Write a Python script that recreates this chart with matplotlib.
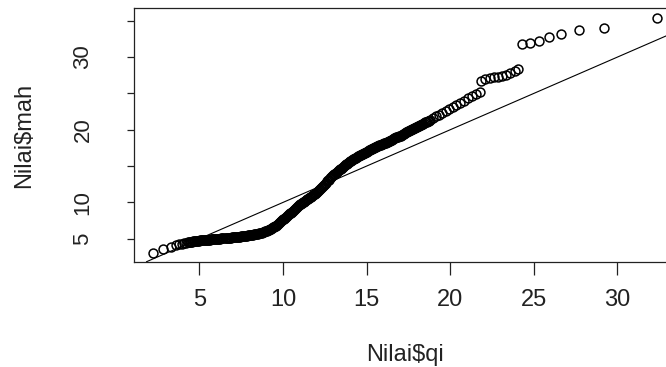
import matplotlib
matplotlib.use("Agg")
import matplotlib.pyplot as plt

plt.rcParams['font.family'] = ['Liberation Sans', 'DejaVu Sans']

# Chi-square quantiles (x) and sorted Mahalanobis distances (y)
qi = [
    2.22, 2.82, 3.30, 3.60, 3.80, 3.96, 4.10, 4.22, 4.32,
    4.40, 4.46, 4.52, 4.58, 4.64, 4.70, 4.76, 4.82, 4.88, 4.94, 5.00, 5.06,
    5.12, 5.18, 5.24, 5.30, 5.36, 5.42, 5.48, 5.54, 5.60, 5.66, 5.72, 5.78, 5.84, 5.90, 5.96, 6.02,
    6.08, 6.14, 6.20, 6.26, 6.32, 6.38, 6.44, 6.50, 6.56, 6.62, 6.68, 6.74, 6.80, 6.86, 6.92, 6.98,
    7.04, 7.10, 7.16, 7.22, 7.28, 7.34, 7.40,
    7.46, 7.52, 7.58, 7.64, 7.70, 7.76, 7.82, 7.88, 7.94, 8.00, 8.06, 8.12, 8.18, 8.24, 8.30, 8.36,
    8.42, 8.48, 8.54, 8.60, 8.66,
    8.72, 8.78, 8.84, 8.90, 8.96, 9.02, 9.08, 9.14, 9.20, 9.26, 9.32, 9.38, 9.44, 9.50, 9.56, 9.62,
    9.68, 9.74, 9.80, 9.86, 9.92, 9.98, 10.04, 10.10,
    10.16, 10.22, 10.28, 10.34, 10.40, 10.46, 10.52, 10.58, 10.64, 10.70, 10.76, 10.82, 10.88, 10.94,
    11.00, 11.06, 11.12, 11.18, 11.24, 11.30, 11.36, 11.42, 11.48, 11.54, 11.60, 11.66, 11.72, 11.78,
    11.84, 11.90, 11.96, 12.02, 12.08, 12.14,
    12.20, 12.26, 12.32, 12.38, 12.44, 12.50, 12.56, 12.62, 12.68, 12.74, 12.80, 12.86, 12.92, 12.98,
    13.04, 13.10, 13.16, 13.22, 13.28, 13.34, 13.40, 13.46, 13.52, 13.58, 13.64, 13.70, 13.76, 13.82,
    13.88, 13.94, 14.00, 14.06,
    14.12, 14.18, 14.24, 14.30, 14.36, 14.42, 14.48, 14.54, 14.60, 14.66, 14.72, 14.78, 14.84, 14.90,
    14.96, 15.02, 15.08, 15.14, 15.20, 15.26, 15.32, 15.38, 15.44, 15.50, 15.56, 15.62, 15.68, 15.74,
    15.80, 15.86, 15.92, 15.98, 16.04, 16.10, 16.16, 16.22,
    16.28, 16.34, 16.40, 16.46, 16.52, 16.58, 16.64, 16.70, 16.76, 16.82, 16.88, 16.94, 17.00, 17.06,
    17.12, 17.18, 17.24, 17.30, 17.36, 17.42, 17.48, 17.54, 17.60, 17.66, 17.72, 17.78, 17.84, 17.90,
    17.96, 18.02, 18.08, 18.14, 18.20, 18.26, 18.32, 18.38, 18.44, 18.50, 18.56, 18.62, 18.68, 18.74, 18.80,
    18.98, 19.16, 19.34, 19.52, 19.72, 19.92, 20.14, 20.36, 20.58, 20.82, 21.06, 21.32, 21.56, 21.78,
    21.85, 22.10, 22.35, 22.60, 22.85, 23.10, 23.35, 23.60, 23.85, 24.05,
    24.29, 24.77, 25.31, 25.91, 26.63, 27.70, 29.20, 32.37,
]

mah = [
    3.03, 3.58, 3.93, 4.13, 4.25, 4.34, 4.40, 4.46, 4.50,
    4.54, 4.56, 4.58, 4.61, 4.63, 4.65, 4.68, 4.70, 4.72, 4.73, 4.75, 4.76,
    4.77, 4.78, 4.79, 4.80, 4.82, 4.83, 4.85, 4.86, 4.88, 4.89, 4.91, 4.92, 4.94, 4.95, 4.97, 4.98,
    5.00, 5.01, 5.02, 5.03, 5.05, 5.06, 5.08, 5.09, 5.11, 5.12, 5.14, 5.15, 5.16, 5.17, 5.19, 5.20,
    5.22, 5.23, 5.25, 5.26, 5.27, 5.28, 5.30,
    5.31, 5.33, 5.34, 5.36, 5.38, 5.41, 5.43, 5.46, 5.48, 5.50, 5.52, 5.55, 5.57, 5.60, 5.62, 5.65,
    5.68, 5.71, 5.74, 5.77, 5.80,
    5.85, 5.90, 5.95, 6.00, 6.06, 6.12, 6.18, 6.25, 6.32, 6.40, 6.48, 6.57, 6.65, 6.73, 6.82, 6.92,
    7.03, 7.15, 7.28, 7.40, 7.52, 7.65, 7.77, 7.88,
    7.99, 8.10, 8.24, 8.38, 8.49, 8.60, 8.72, 8.85, 8.97, 9.10, 9.22, 9.35, 9.48, 9.62,
    9.73, 9.83, 9.92, 10.02, 10.12, 10.22, 10.32, 10.42, 10.52, 10.62, 10.71, 10.80, 10.90, 11.00,
    11.11, 11.22, 11.33, 11.44, 11.54, 11.65,
    11.80, 11.95, 12.10, 12.24, 12.40, 12.55, 12.72, 12.88, 13.02, 13.15, 13.30, 13.45, 13.60, 13.74,
    13.85, 13.95, 14.09, 14.22, 14.34, 14.45, 14.56, 14.66, 14.77, 14.88, 14.99, 15.10, 15.22, 15.33,
    15.44, 15.55, 15.65, 15.75,
    15.84, 15.92, 16.00, 16.08, 16.16, 16.24, 16.32, 16.40, 16.48, 16.56, 16.64, 16.72, 16.79, 16.86,
    16.93, 17.00, 17.08, 17.15, 17.24, 17.32, 17.40, 17.48, 17.54, 17.60, 17.66, 17.72, 17.78, 17.84,
    17.90, 17.95, 18.01, 18.06, 18.12, 18.17, 18.24, 18.30,
    18.37, 18.44, 18.51, 18.58, 18.65, 18.73, 18.80, 18.87, 18.94, 18.99, 19.03, 19.07, 19.13, 19.20,
    19.29, 19.39, 19.48, 19.56, 19.65, 19.73, 19.82, 19.89, 19.95, 20.02, 20.09, 20.16, 20.23, 20.30,
    20.37, 20.43, 20.50, 20.57, 20.64, 20.71, 20.78, 20.85, 20.92, 21.00, 21.06, 21.13, 21.20, 21.27, 21.33,
    21.58, 21.85, 22.08, 22.32, 22.58, 22.82, 23.10, 23.38, 23.66, 24.00, 24.32, 24.65, 24.92, 25.18,
    26.75, 26.95, 27.10, 27.20, 27.30, 27.45, 27.60, 27.80, 28.05, 28.30,
    31.78, 31.92, 32.19, 32.74, 33.15, 33.70, 33.98, 35.35,
]

x_ticks = [5, 10, 15, 20, 25, 30]
y_ticks = [5, 10, 15, 20, 25, 30, 35]
y_tick_labels = ["5", "10", "", "20", "", "30", ""]
x_label = "Nilai$qi"
y_label = "Nilai$mah"

W, H = 666, 367
fig = plt.figure(figsize=(W / 100, H / 100), dpi=100)
left_px, right_px, top_px, bottom_px = 133.7, 677.0, 8.3, 261.7
ax = fig.add_axes([left_px / W, 1 - bottom_px / H, (right_px - left_px) / W, (bottom_px - top_px) / H])

ax.plot(qi, mah, linestyle='none', marker='o', markersize=6.4, markerfacecolor='none',
        markeredgecolor='black', markeredgewidth=1.1)
ax.axline((0, 0), slope=1, color='black', linewidth=0.8)

ax.set_xlim(1.07, 33.56)
ax.set_ylim(1.84, 36.71)

ax.set_xticks(x_ticks)
ax.set_xticklabels([str(t) for t in x_ticks])
ax.set_yticks(y_ticks)
ax.set_yticklabels(y_tick_labels, rotation=90, va='center')

ax.tick_params(axis='x', length=9, width=0.9, pad=11, labelsize=17, colors='#222222')
ax.tick_params(axis='y', length=5, width=0.9, pad=24, labelsize=16, colors='#222222')

for s in ax.spines.values():
    s.set_linewidth(0.9)
    s.set_color('#222222')

ax.set_xlabel(x_label, fontsize=17, color='#222222')
ax.set_ylabel(y_label, fontsize=17, color='#222222')
ax.xaxis.set_label_coords(0.5, -0.368)
ax.yaxis.set_label_coords(-0.202, 0.5)
ax.xaxis.label.set_va('center')
ax.yaxis.label.set_va('center')

fig.savefig("out.png", dpi=100)
